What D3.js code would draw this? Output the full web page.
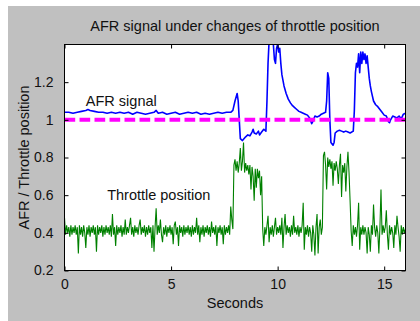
<!DOCTYPE html>
<html>
<head>
<meta charset="utf-8">
<script src="https://cdn.jsdelivr.net/npm/d3@7"></script>
<style>
  html, body { margin: 0; padding: 0; background: #fff; }
  svg { display: block; }
  text { font-family: "Liberation Sans", Arial, sans-serif; fill: #111; }
</style>
</head>
<body>
<svg id="chart"></svg>
<script>
const width = 420, height = 321;

// Tick values and labels
const xTicks = [0, 5, 10, 15];
const yTicks = [0.2, 0.4, 0.6, 0.8, 1, 1.2];
const yTickLabels = ['0.2', '0.4', '0.6', '0.8', '1', '1.2'];

// AFR signal (seconds, ratio)
const afrTime = [
  0.0, 0.2, 0.4, 0.6, 0.8, 1.0, 1.1, 1.2, 1.4, 1.6, 1.8, 2.0, 2.2, 2.4, 2.6, 2.8,
  3.0, 3.2, 3.4, 3.6, 3.8, 4.0, 4.2, 4.3, 4.4, 4.6, 4.8, 5.0, 5.2, 5.4, 5.6, 5.8,
  6.0, 6.2, 6.4, 6.6, 6.8, 7.0, 7.2, 7.4, 7.6, 7.8, 7.9, 8.0, 8.1, 8.15, 8.2, 8.25,
  8.35, 8.5, 8.6, 8.7, 8.8, 8.85, 8.9, 9.0, 9.1, 9.15, 9.25, 9.35, 9.45, 9.5, 9.55, 9.6,
  9.7, 9.8, 9.85, 9.9, 9.95, 10.0, 10.05, 10.1, 10.15, 10.2, 10.3, 10.4, 10.5, 10.6, 10.7, 10.8,
  10.9, 11.0, 11.1, 11.2, 11.3, 11.4, 11.5, 11.6, 11.65, 11.75, 11.85, 11.95, 12.05, 12.15, 12.25, 12.3,
  12.35, 12.4, 12.45, 12.5, 12.6, 12.65, 12.7, 12.8, 12.9, 13.0, 13.1, 13.2, 13.3, 13.4, 13.55, 13.6,
  13.65, 13.7, 13.75, 13.8, 13.85, 13.9, 13.95, 14.0, 14.05, 14.1, 14.15, 14.2, 14.25, 14.3, 14.35, 14.4,
  14.5, 14.6, 14.7, 14.8, 14.9, 15.0, 15.1, 15.2, 15.25, 15.3, 15.4, 15.5, 15.6, 15.7, 15.8, 15.9,
  16.0
];
const afrValue = [
  1.04, 1.04, 1.035, 1.04, 1.045, 1.05, 1.055, 1.05, 1.045, 1.04, 1.04, 1.035, 1.04, 1.035, 1.04, 1.035,
  1.04, 1.03, 1.04, 1.035, 1.03, 1.035, 1.04, 1.05, 1.035, 1.04, 1.03, 1.035, 1.04, 1.03, 1.035, 1.04,
  1.035, 1.04, 1.03, 1.035, 1.03, 1.035, 1.04, 1.035, 1.04, 1.04, 1.05, 1.1, 1.14, 1.1, 1.0, 0.9,
  0.89, 0.91, 0.92, 0.915, 0.935, 0.95, 0.93, 0.925, 0.94, 0.92, 0.935, 0.95, 0.94, 1.1, 1.3, 1.42,
  1.45, 1.4, 1.32, 1.3, 1.38, 1.4, 1.36, 1.38, 1.3, 1.24, 1.18, 1.14, 1.11, 1.09, 1.075, 1.065,
  1.055, 1.045, 1.04, 1.035, 1.03, 1.025, 1.01, 0.98, 0.99, 1.02, 1.015, 1.02, 1.03, 1.035, 1.04, 1.1,
  1.25, 1.22, 1.0, 0.88, 0.865, 0.88, 0.93, 0.94, 0.945, 0.94, 0.935, 0.94, 0.935, 0.93, 0.94, 1.05,
  1.25, 1.3, 1.28, 1.35, 1.25, 1.36, 1.3, 1.36, 1.32, 1.35, 1.3, 1.34, 1.28, 1.22, 1.18, 1.15,
  1.1, 1.08, 1.07, 1.055, 1.04, 1.025, 1.02, 0.99, 0.985, 1.0, 1.02, 1.015, 1.01, 1.02, 1.005, 1.03,
  1.035
];

// Throttle position, one value every 0.05 s (one row per second)
const throttleStep = 0.05;
const throttle = [
  0.48, 0.39, 0.44, 0.40, 0.43, 0.38, 0.44, 0.39, 0.43, 0.40, 0.44, 0.39, 0.43, 0.29, 0.44, 0.39, 0.43, 0.38, 0.44, 0.40,
  0.32, 0.43, 0.39, 0.44, 0.38, 0.43, 0.40, 0.44, 0.39, 0.43, 0.30, 0.44, 0.39, 0.43, 0.40, 0.44, 0.38, 0.43, 0.39, 0.44,
  0.40, 0.43, 0.39, 0.44, 0.38, 0.50, 0.39, 0.43, 0.33, 0.44, 0.39, 0.43, 0.40, 0.44, 0.38, 0.43, 0.39, 0.47, 0.39, 0.43,
  0.40, 0.44, 0.48, 0.39, 0.43, 0.38, 0.44, 0.40, 0.43, 0.39, 0.44, 0.47, 0.39, 0.43, 0.40, 0.44, 0.38, 0.43, 0.39, 0.44,
  0.40, 0.43, 0.32, 0.44, 0.30, 0.43, 0.53, 0.39, 0.44, 0.40, 0.47, 0.39, 0.35, 0.43, 0.39, 0.44, 0.38, 0.43, 0.40, 0.44,
  0.39, 0.43, 0.34, 0.44, 0.46, 0.39, 0.43, 0.33, 0.44, 0.40, 0.43, 0.38, 0.44, 0.39, 0.43, 0.40, 0.44, 0.39, 0.43, 0.38,
  0.44, 0.39, 0.43, 0.40, 0.48, 0.39, 0.44, 0.35, 0.43, 0.39, 0.44, 0.38, 0.43, 0.40, 0.44, 0.39, 0.43, 0.38, 0.46, 0.40,
  0.43, 0.39, 0.44, 0.33, 0.43, 0.40, 0.44, 0.39, 0.43, 0.34, 0.44, 0.39, 0.43, 0.40, 0.44, 0.39, 0.54, 0.47, 0.42, 0.76,
  0.79, 0.73, 0.78, 0.72, 0.77, 0.85, 0.73, 0.78, 0.88, 0.72, 0.77, 0.73, 0.76, 0.71, 0.76, 0.63, 0.75, 0.70, 0.57, 0.74,
  0.64, 0.74, 0.69, 0.73, 0.60, 0.70, 0.42, 0.33, 0.43, 0.39, 0.44, 0.49, 0.35, 0.43, 0.39, 0.44, 0.38, 0.43, 0.48, 0.39,
  0.43, 0.40, 0.44, 0.39, 0.48, 0.32, 0.43, 0.50, 0.39, 0.44, 0.40, 0.43, 0.38, 0.44, 0.39, 0.49, 0.40, 0.43, 0.39, 0.44,
  0.38, 0.43, 0.40, 0.44, 0.56, 0.31, 0.43, 0.39, 0.44, 0.38, 0.43, 0.40, 0.30, 0.44, 0.39, 0.28, 0.43, 0.50, 0.29, 0.43,
  0.47, 0.39, 0.43, 0.81, 0.83, 0.76, 0.63, 0.80, 0.75, 0.79, 0.74, 0.78, 0.65, 0.77, 0.73, 0.78, 0.74, 0.66, 0.76, 0.82,
  0.59, 0.76, 0.72, 0.77, 0.62, 0.75, 0.83, 0.72, 0.57, 0.41, 0.33, 0.44, 0.39, 0.43, 0.38, 0.44, 0.56, 0.31, 0.43, 0.39,
  0.44, 0.39, 0.43, 0.40, 0.29, 0.43, 0.39, 0.30, 0.44, 0.39, 0.55, 0.43, 0.38, 0.44, 0.40, 0.29, 0.43, 0.63, 0.39, 0.44,
  0.40, 0.43, 0.52, 0.39, 0.31, 0.44, 0.39, 0.43, 0.40, 0.32, 0.44, 0.39, 0.49, 0.43, 0.38, 0.30, 0.44, 0.39, 0.43, 0.40,
  0.42
];

// Reference level for the AFR
const afrTarget = 1;

const plotLeft = 64.5, plotRight = 405.5, plotTop = 44.5, plotBottom = 270.5;

const svg = d3.select('#chart')
  .attr('width', width)
  .attr('height', height);

// Figure background
svg.append('rect')
  .attr('x', 8).attr('y', 6)
  .attr('width', width - 8).attr('height', height - 6)
  .attr('fill', '#c0c0c0');

const x = d3.scaleLinear().domain([0, 16]).range([plotLeft, plotRight]);
const y = d3.scaleLinear().domain([0.2, 1.4]).range([plotBottom, plotTop]);

// Plot area
svg.append('rect')
  .attr('x', plotLeft).attr('y', plotTop)
  .attr('width', plotRight - plotLeft).attr('height', plotBottom - plotTop)
  .attr('fill', '#fff');

svg.append('clipPath').attr('id', 'plotClip')
  .append('rect')
  .attr('x', plotLeft).attr('y', plotTop)
  .attr('width', plotRight - plotLeft).attr('height', plotBottom - plotTop);

const plot = svg.append('g').attr('clip-path', 'url(#plotClip)');

const throttleLine = d3.line()
  .x((d, i) => x(i * throttleStep))
  .y(d => y(d));

plot.append('path')
  .datum(throttle)
  .attr('fill', 'none')
  .attr('stroke', '#008000')
  .attr('stroke-width', 1.1)
  .attr('d', throttleLine);

const afrLine = d3.line()
  .x((d, i) => x(afrTime[i]))
  .y(d => y(d));

plot.append('path')
  .datum(afrValue)
  .attr('fill', 'none')
  .attr('stroke', '#0000ff')
  .attr('stroke-width', 1.6)
  .attr('stroke-linejoin', 'round')
  .attr('d', afrLine);

plot.append('line')
  .attr('x1', x(0)).attr('x2', x(16))
  .attr('y1', y(afrTarget)).attr('y2', y(afrTarget))
  .attr('stroke', '#ff00ff')
  .attr('stroke-width', 4)
  .attr('stroke-dasharray', '10.7,4.3');

// Axes: ticks point inwards on all four sides
const styleAxis = g => {
  g.select('.domain').remove();
  g.selectAll('line').attr('stroke', '#000');
  g.selectAll('text')
    .attr('font-size', 14)
    .attr('font-family', '"Liberation Sans", Arial, sans-serif')
    .attr('fill', '#111');
};

svg.append('g')
  .attr('transform', `translate(0,${plotBottom})`)
  .call(d3.axisBottom(x).tickValues(xTicks).tickSize(-4).tickPadding(9))
  .call(styleAxis);

svg.append('g')
  .attr('transform', `translate(0,${plotTop})`)
  .call(d3.axisTop(x).tickValues(xTicks).tickSize(-4).tickFormat(''))
  .call(styleAxis);

svg.append('g')
  .attr('transform', `translate(${plotLeft},0)`)
  .call(d3.axisLeft(y).tickValues(yTicks).tickSize(-4).tickPadding(11)
    .tickFormat((d, i) => yTickLabels[i]))
  .call(styleAxis);

svg.append('g')
  .attr('transform', `translate(${plotRight},0)`)
  .call(d3.axisRight(y).tickValues(yTicks).tickSize(-4).tickFormat(''))
  .call(styleAxis);

// Box
svg.append('rect')
  .attr('x', plotLeft).attr('y', plotTop)
  .attr('width', plotRight - plotLeft).attr('height', plotBottom - plotTop)
  .attr('fill', 'none')
  .attr('stroke', '#000')
  .attr('stroke-width', 1);

// Texts
svg.append('text')
  .attr('x', (plotLeft + plotRight) / 2).attr('y', 31)
  .attr('text-anchor', 'middle')
  .attr('font-size', 14.5)
  .text('AFR signal under changes of throttle position');

svg.append('text')
  .attr('x', (plotLeft + plotRight) / 2).attr('y', 308)
  .attr('text-anchor', 'middle')
  .attr('font-size', 14.5)
  .text('Seconds');

svg.append('text')
  .attr('transform', `translate(28.5,${(plotTop + plotBottom) / 2}) rotate(-90)`)
  .attr('text-anchor', 'middle')
  .attr('font-size', 14.5)
  .text('AFR / Throttle position');

svg.append('text')
  .attr('x', x(1)).attr('y', y(1.1))
  .attr('dy', '0.35em')
  .attr('font-size', 14.5)
  .text('AFR signal');

svg.append('text')
  .attr('x', x(2)).attr('y', y(0.6))
  .attr('dy', '0.35em')
  .attr('font-size', 14.5)
  .text('Throttle position');
</script>
</body>
</html>
